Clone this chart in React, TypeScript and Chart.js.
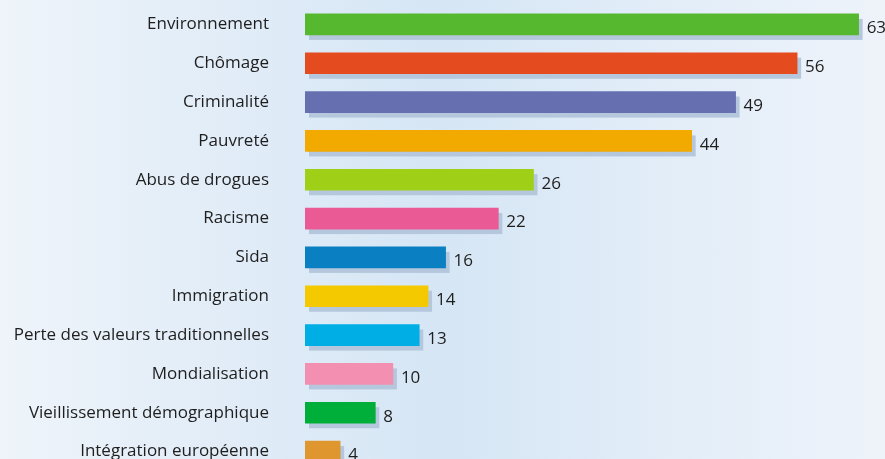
import React, { useEffect, useRef } from "react";
import { Chart, registerables } from "chart.js";

Chart.register(...registerables);

const categories = [
  "Environnement",
  "Chômage",
  "Criminalité",
  "Pauvreté",
  "Abus de drogues",
  "Racisme",
  "Sida",
  "Immigration",
  "Perte des valeurs traditionnelles",
  "Mondialisation",
  "Vieillissement démographique",
  "Intégration européenne",
];

const values = [63, 56, 49, 44, 26, 22, 16, 14, 13, 10, 8, 4];

const barColors = [
  "#56b82e",
  "#e44b1f",
  "#6670b0",
  "#f2a900",
  "#9fcf17",
  "#ea5a95",
  "#0a7fc2",
  "#f5c900",
  "#00aee6",
  "#f390b2",
  "#00ae3a",
  "#e0962e",
];

const FONT = "'Open Sans', 'Noto Sans', sans-serif";

const shadowPlugin = {
  id: "barShadow",
  beforeDatasetsDraw(chart: any) {
    const ctx = chart.ctx;
    const meta = chart.getDatasetMeta(0);
    ctx.save();
    ctx.fillStyle = "#b4c7dc";
    meta.data.forEach((bar: any) => {
      const h = bar.height;
      ctx.fillRect(bar.base + 4, bar.y - h / 2 + 5, bar.x - bar.base, h);
    });
    ctx.restore();
  },
  afterDatasetsDraw(chart: any) {
    const ctx = chart.ctx;
    const meta = chart.getDatasetMeta(0);
    ctx.save();
    ctx.fillStyle = "#1e1e1e";
    ctx.font = `17px ${FONT}`;
    ctx.textAlign = "left";
    ctx.textBaseline = "middle";
    meta.data.forEach((bar: any, i: number) => {
      ctx.fillText(String(values[i]), bar.x + 8, bar.y + 4);
    });
    ctx.restore();
  },
};

export default function App() {
  const ref = useRef<HTMLCanvasElement>(null);
  useEffect(() => {
    if (!ref.current) return;
    const chart = new Chart(ref.current, {
      type: "bar",
      data: {
        labels: categories,
        datasets: [
          {
            data: values,
            backgroundColor: barColors,
            barThickness: 21,
            borderWidth: 0,
          },
        ],
      },
      options: {
        indexAxis: "y",
        animation: false,
        responsive: true,
        maintainAspectRatio: false,
        layout: { padding: { top: 5, right: 0, bottom: 0, left: 0 } },
        plugins: {
          legend: { display: false },
          tooltip: { enabled: false },
        },
        scales: {
          x: {
            display: false,
            min: 0,
            max: 66,
          },
          y: {
            afterFit: (scale: any) => {
              scale.width = 305;
              scale.paddingTop = 0;
              scale.paddingBottom = 0;
            },
            grid: { display: false, drawTicks: false },
            border: { display: false },
            ticks: {
              color: "#1e1e1e",
              font: { family: FONT, size: 17 },
              padding: 36,
              autoSkip: false,
            },
          },
        },
      },
      plugins: [shadowPlugin],
    });
    return () => chart.destroy();
  }, []);
  return (
    <div
      style={{
        position: "fixed",
        left: 0,
        top: 0,
        width: 885,
        height: 459,
        overflow: "hidden",
        background:
          "linear-gradient(to right, #eef4fa 0%, #dfebf7 30%, #d6e6f5 50%, #e2edf8 75%, #eef3fa 100%)",
      }}
    >
      <div style={{ position: "relative", width: 885, height: 471 }}>
        <canvas ref={ref} />
      </div>
    </div>
  );
}
